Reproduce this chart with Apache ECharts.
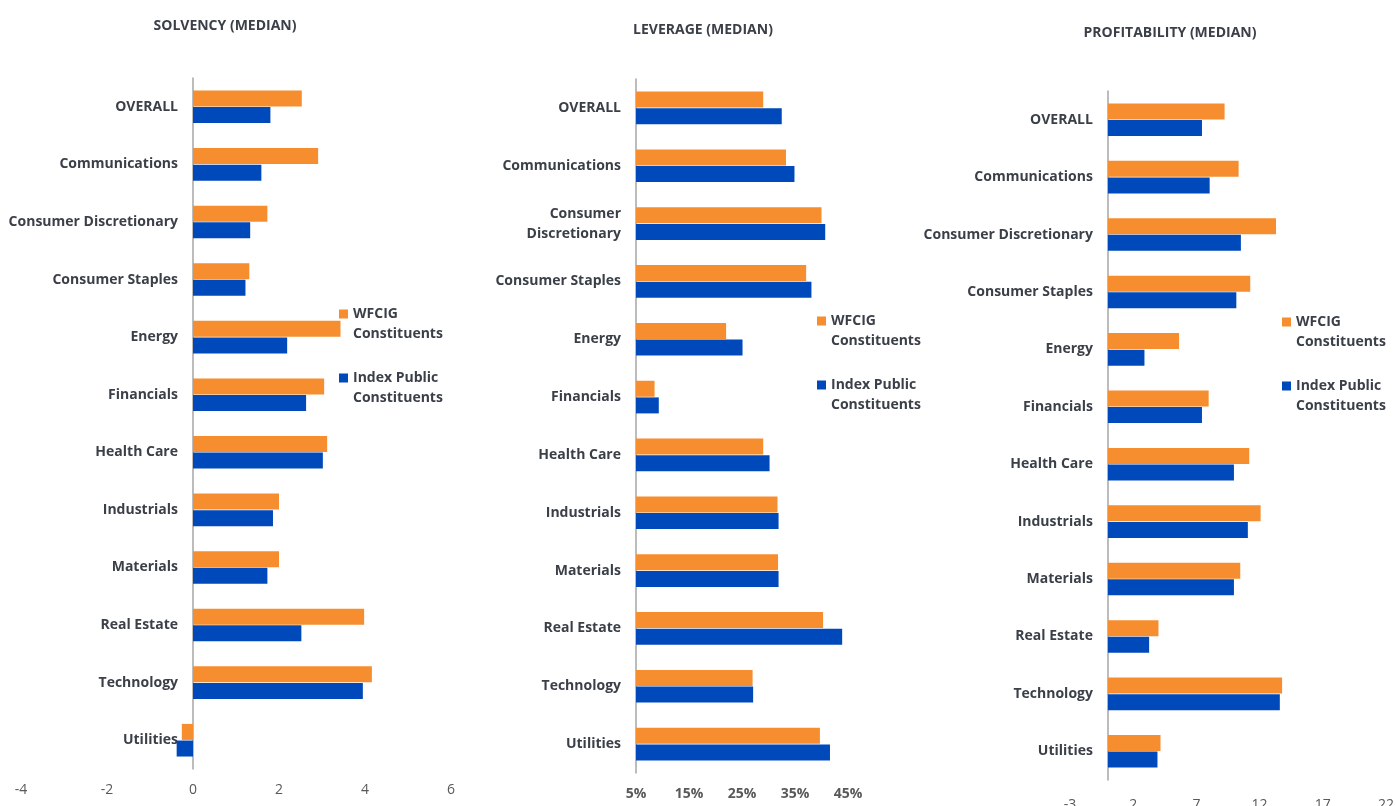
<!DOCTYPE html>
<html>
<head>
<meta charset="utf-8">
<script src="https://cdn.jsdelivr.net/npm/echarts@6/dist/echarts.min.js"></script>
<style>
html,body{margin:0;padding:0;background:#fff;}
#chart{width:1396px;height:806px;}
</style>
</head>
<body>
<div id="chart"></div>
<script>
var categories = ['OVERALL','Communications','Consumer Discretionary','Consumer Staples','Energy','Financials','Health Care','Industrials','Materials','Real Estate','Technology','Utilities'];
var seriesNames = ['WFCIG Constituents','Index Public Constituents'];
var panelTitles = ['SOLVENCY (MEDIAN)','LEVERAGE (MEDIAN)','PROFITABILITY (MEDIAN)'];

var solvencyWfcig = [2.53, 2.91, 1.73, 1.31, 3.43, 3.05, 3.12, 2.00, 2.00, 3.98, 4.16, -0.26];
var solvencyIndex = [1.80, 1.59, 1.33, 1.22, 2.19, 2.63, 3.02, 1.86, 1.73, 2.52, 3.95, -0.38];
var leverageWfcig = [29.0, 33.3, 40.0, 37.1, 22.0, 8.5, 29.0, 31.7, 31.8, 40.3, 27.0, 39.7];
var leverageIndex = [32.5, 34.9, 40.7, 38.1, 25.1, 9.3, 30.2, 31.9, 31.9, 43.9, 27.1, 41.6];
var profitWfcig = [9.23, 10.34, 13.30, 11.26, 5.63, 7.97, 11.18, 12.08, 10.47, 4.00, 13.78, 4.16];
var profitIndex = [7.44, 8.05, 10.52, 10.16, 2.89, 7.44, 9.97, 11.07, 9.97, 3.26, 13.60, 3.92];

var solvencyTicks = {min: -4, max: 6, interval: 2};
var leverageTicks = {min: 5, max: 45, interval: 10};
var profitTicks = {min: -3, max: 22, interval: 5};

var ORANGE = '#F68E2F';
var BLUE = '#0049BA';
var TEXT = '#3a3f48';
var FONT = '"Open Sans", "Liberation Sans", sans-serif';

var grids = [
  {left: 21, width: 430, top: 78, height: 691},
  {left: 636, width: 212, top: 79, height: 694},
  {left: 1070, width: 316, top: 91, height: 689}
];
var ticksList = [solvencyTicks, leverageTicks, profitTicks];

var chart = echarts.init(document.getElementById('chart'), null, {renderer: 'canvas'});

function xAxis(idx, ticks, bold, fmt, margin) {
  return {
    type: 'value', gridIndex: idx, min: ticks.min, max: ticks.max, interval: ticks.interval,
    axisLine: {show: false}, axisTick: {show: false}, splitLine: {show: false},
    axisLabel: {color: '#595959', fontFamily: FONT, fontSize: 14, fontWeight: bold ? 'bold' : 'normal',
      margin: margin, formatter: fmt}
  };
}
function yAxis(idx, wrap) {
  var t = ticksList[idx];
  // move the category axis (line and labels together) to the value 0, or keep it at the left when 0 is out of range
  var zeroFrac = t.min < 0 ? (0 - t.min) / (t.max - t.min) : 0;
  return {
    type: 'category', gridIndex: idx, data: categories, inverse: true,
    offset: -zeroFrac * grids[idx].width,
    axisLine: {show: true, onZero: false, lineStyle: {color: '#a6a6a6', width: 1.5}},
    axisTick: {show: false},
    axisLabel: {color: TEXT, fontFamily: FONT, fontSize: 14, fontWeight: 'bold', margin: 15, lineHeight: 20,
      formatter: function (v) { return (wrap && v === 'Consumer Discretionary') ? 'Consumer\nDiscretionary' : v; }}
  };
}
function bar(name, idx, data, color) {
  return {
    type: 'bar', name: name, xAxisIndex: idx, yAxisIndex: idx, data: data,
    barWidth: 16, barGap: '4%',
    itemStyle: {color: color}
  };
}
// square icon drawn at the top of a taller symbol box so it lines up with the first text line
var LEGEND_ICON = 'path://M0,0L9,0L9,9L0,9Z M0,29L0.01,29';
function legend(left, top) {
  return {
    data: seriesNames, orient: 'vertical', left: left, top: top, itemGap: 24, padding: 0,
    itemWidth: 9, itemHeight: 29, icon: LEGEND_ICON, selectedMode: false,
    formatter: function (n) { return n.replace(/ (\S+)$/, '\n$1'); },
    textStyle: {color: TEXT, fontFamily: FONT, fontSize: 14, fontWeight: 'bold', lineHeight: 20}
  };
}
function title(text, x, y) {
  return {text: text, left: x, top: y, textAlign: 'center', padding: 0,
    textStyle: {color: TEXT, fontFamily: FONT, fontSize: 14, fontWeight: 'bold'}};
}

chart.setOption({
  animation: false,
  title: [title(panelTitles[0], 225, 19), title(panelTitles[1], 703, 23), title(panelTitles[2], 1170, 26)],
  legend: [legend(339, 304), legend(817, 311), legend(1282, 312)],
  grid: grids.map(function (g) {
    return {left: g.left, width: g.width, top: g.top, height: g.height, containLabel: false, outerBoundsMode: 'none'};
  }),
  xAxis: [
    xAxis(0, solvencyTicks, false, '{value}', 14),
    xAxis(1, leverageTicks, true, '{value}%', 14),
    xAxis(2, profitTicks, false, '{value}', 18)
  ],
  yAxis: [yAxis(0, false), yAxis(1, true), yAxis(2, false)],
  series: [
    bar(seriesNames[0], 0, solvencyWfcig, ORANGE),
    bar(seriesNames[1], 0, solvencyIndex, BLUE),
    bar(seriesNames[0], 1, leverageWfcig, ORANGE),
    bar(seriesNames[1], 1, leverageIndex, BLUE),
    bar(seriesNames[0], 2, profitWfcig, ORANGE),
    bar(seriesNames[1], 2, profitIndex, BLUE)
  ]
});
</script>
</body>
</html>
